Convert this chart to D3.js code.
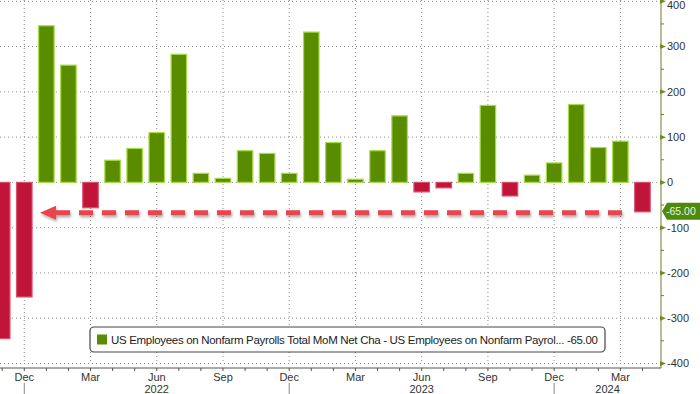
<!DOCTYPE html>
<html>
<head>
<meta charset="utf-8">
<script src="https://cdn.jsdelivr.net/npm/d3@7"></script>
<style>
  body { margin: 0; background: #fff; }
  text { font-family: "Liberation Sans", Arial, sans-serif; }
</style>
</head>
<body>
<div class="container"></div>
<script>
// monthly values (Nov 2021 .. Apr 2024)
const months = ["2021-11","2021-12","2022-01","2022-02","2022-03","2022-04","2022-05","2022-06",
                "2022-07","2022-08","2022-09","2022-10","2022-11","2022-12","2023-01","2023-02",
                "2023-03","2023-04","2023-05","2023-06","2023-07","2023-08","2023-09","2023-10",
                "2023-11","2023-12","2024-01","2024-02","2024-03","2024-04"];
const values = [-345, -253, 346, 259, -56, 49, 75, 110, 283, 20, 9, 70, 64, 20, 332, 88,
                7, 70, 147, -21, -12, 20, 170, -30, 16, 43, 172, 77, 91, -65];

const tickMonths = ["2021-12","2022-03","2022-06","2022-09","2022-12","2023-03","2023-06","2023-09","2023-12","2024-03"];
const tickNames  = ["Dec","Mar","Jun","Sep","Dec","Mar","Jun","Sep","Dec","Mar"];
const yearBreaks = ["2021-12","2022-12","2023-12"];
const yearNames  = ["2022","2023","2024"];
const yTicks = [-400,-300,-200,-100,0,100,200,300,400];
const lastValue = -65;
const legendText = "US Employees on Nonfarm Payrolls Total MoM Net Cha - US Employees on Nonfarm Payrol...  -65.00";

const W = 700, H = 394;
const plotRight = 661;
const axisY = 368;

const svg = d3.select(".container")
  .append("svg")
    .attr("width", W)
    .attr("height", H);

const defs = svg.append("defs");
const f = defs.append("filter").attr("id", "shadow")
  .attr("x", "-5%").attr("y", "-100%").attr("width", "110%").attr("height", "300%");
f.append("feDropShadow").attr("dx", 1).attr("dy", 2).attr("stdDeviation", 1.4)
  .attr("flood-color", "#000").attr("flood-opacity", 0.35);

const x = d3.scaleLinear().domain([-0.1, 29.84]).range([0, plotRight]);
const y = d3.scaleLinear().domain([-400, 400]).range([363.5, 1.3]);
const idx = m => months.indexOf(m);

// gridlines
const grid = svg.append("g");
grid.selectAll(".hg")
  .data(yTicks)
  .enter().append("line")
    .attr("x1", 0).attr("x2", plotRight)
    .attr("y1", d => y(d)).attr("y2", d => y(d))
    .attr("stroke", "#8a8a8a").attr("stroke-width", 1)
    .attr("stroke-dasharray", "1,3");
grid.selectAll(".vg")
  .data(tickMonths)
  .enter().append("line")
    .attr("x1", d => x(idx(d))).attr("x2", d => x(idx(d)))
    .attr("y1", 0).attr("y2", y(-400))
    .attr("stroke", "#8a8a8a").attr("stroke-width", 1)
    .attr("stroke-dasharray", "1,3");

// bars
const barW = 15.5;
svg.append("g")
  .selectAll("rect")
  .data(values)
  .enter().append("rect")
    .attr("x", (d, i) => x(i) - barW / 2)
    .attr("y", d => d >= 0 ? y(d) : y(0))
    .attr("width", barW)
    .attr("height", d => Math.abs(y(d) - y(0)))
    .attr("fill", d => d >= 0 ? "#5a8c00" : "#c01438")
    .attr("stroke", d => d >= 0 ? "#a8dc4a" : "#d8506a")
    .attr("stroke-width", 1.2);

// dashed arrow at last value
const arrow = svg.append("g").attr("filter", "url(#shadow)");
arrow.append("line")
  .attr("x1", 56).attr("x2", 627)
  .attr("y1", y(lastValue) + 1).attr("y2", y(lastValue) + 1)
  .attr("stroke", "#e8444e").attr("stroke-width", 5)
  .attr("stroke-dasharray", "14,9");
arrow.append("path")
  .attr("d", `M40,${y(lastValue) + 1} L56,${y(lastValue) - 6} L56,${y(lastValue) + 8} Z`)
  .attr("fill", "#e8444e");

// bottom axis
const bx = svg.append("g");
bx.append("line")
  .attr("x1", 0).attr("x2", plotRight)
  .attr("y1", axisY).attr("y2", axisY)
  .attr("stroke", "#555").attr("stroke-width", 1);
bx.selectAll(".mt")
  .data(months)
  .enter().append("line")
    .attr("x1", (d, i) => x(i)).attr("x2", (d, i) => x(i))
    .attr("y1", axisY).attr("y2", axisY + 3)
    .attr("stroke", "#555");
bx.selectAll(".ml")
  .data(tickMonths)
  .enter().append("text")
    .attr("x", d => x(idx(d)))
    .attr("y", 381)
    .attr("text-anchor", "middle")
    .attr("font-size", 11)
    .attr("fill", "#333")
    .text((d, i) => tickNames[i]);
bx.selectAll(".yb")
  .data(yearBreaks)
  .enter().append("line")
    .attr("x1", d => x(idx(d))).attr("x2", d => x(idx(d)))
    .attr("y1", 383).attr("y2", H)
    .attr("stroke", "#888");
const breakX = yearBreaks.map(d => x(idx(d))).concat([plotRight]);
bx.selectAll(".yl")
  .data(yearNames)
  .enter().append("text")
    .attr("x", (d, i) => (breakX[i] + breakX[i + 1]) / 2)
    .attr("y", 393)
    .attr("text-anchor", "middle")
    .attr("font-size", 11)
    .attr("fill", "#333")
    .text(d => d);

// right axis
const ry = svg.append("g");
ry.append("line")
  .attr("x1", plotRight).attr("x2", plotRight)
  .attr("y1", 0).attr("y2", axisY)
  .attr("stroke", "#6f7f2a").attr("stroke-width", 1);
ry.selectAll(".minor")
  .data(d3.range(-350, 400, 100))
  .enter().append("line")
    .attr("x1", plotRight).attr("x2", plotRight + 3)
    .attr("y1", d => y(d)).attr("y2", d => y(d))
    .attr("stroke", "#6f7f2a");
ry.selectAll(".tri")
  .data(yTicks)
  .enter().append("path")
    .attr("d", d => `M${plotRight - 1},${y(d) - 2.5} L${plotRight + 5},${y(d)} L${plotRight - 1},${y(d) + 2.5} Z`)
    .attr("fill", "#6f8a1f");
ry.selectAll(".yl")
  .data(yTicks)
  .enter().append("text")
    .attr("x", 667)
    .attr("y", d => Math.max(y(d), 5))
    .attr("dy", "0.35em")
    .attr("font-size", 11)
    .attr("fill", "#333")
    .text(d => d);

// last value tag
const ty = y(lastValue) - 0.5;
ry.append("path")
  .attr("d", `M${plotRight + 1},${ty} L${plotRight + 6},${ty - 8.5} L700,${ty - 8.5} L700,${ty + 8.5} L${plotRight + 6},${ty + 8.5} Z`)
  .attr("fill", "#4f8a10");
ry.append("text")
  .attr("x", 666)
  .attr("y", ty)
  .attr("dy", "0.36em")
  .attr("font-size", 10.5)
  .attr("fill", "#eaf6dc")
  .text(lastValue.toFixed(2));

// legend
const lg = svg.append("g");
lg.append("rect")
  .attr("x", 90).attr("y", 327).attr("width", 515).attr("height", 25).attr("rx", 4)
  .attr("fill", "#fff").attr("stroke", "#444").attr("stroke-width", 1.2);
lg.append("rect")
  .attr("x", 97).attr("y", 334.5).attr("width", 10).attr("height", 10)
  .attr("fill", "#5a8c00");
lg.append("text")
  .attr("x", 111).attr("y", 344)
  .attr("font-size", 11.5)
  .attr("fill", "#222")
  .attr("textLength", 487)
  .attr("lengthAdjust", "spacing")
  .text(legendText);
</script>
</body>
</html>
